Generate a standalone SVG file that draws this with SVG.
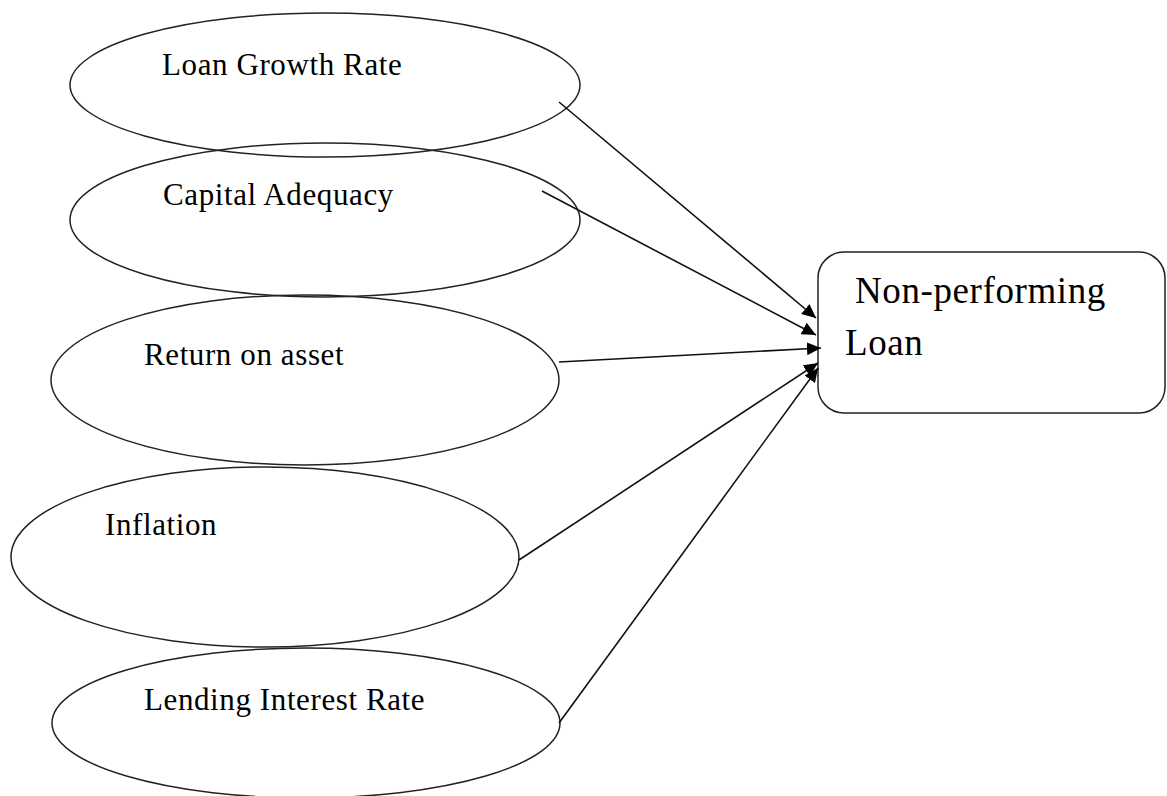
<svg xmlns="http://www.w3.org/2000/svg" width="1167" height="796" viewBox="0 0 1167 796">
<style>
.node ellipse{fill:none;stroke:#222;stroke-width:1.5}
.box{fill:#fff;stroke:#222;stroke-width:1.5}
text{font-family:"Liberation Serif","Times New Roman",serif;font-size:31px;fill:#000;letter-spacing:0.6px}
.big{font-size:37px}
.edges line{stroke:#111;stroke-width:1.6;marker-end:url(#ah)}
</style>
<defs>
<marker id="ah" markerUnits="userSpaceOnUse" markerWidth="15" markerHeight="13" refX="14" refY="6.5" orient="auto">
<path d="M0,0 L14,6.5 L0,13 z" fill="#000"/>
</marker>
</defs>
<rect width="1167" height="796" fill="#fff"/>
<g id="n-loan-growth" class="node">
<ellipse cx="325" cy="85" rx="255" ry="72"/>
<text x="162" y="75">Loan Growth Rate</text>
</g>
<g id="n-capital" class="node">
<ellipse cx="325" cy="220" rx="255" ry="77"/>
<text x="163" y="205">Capital Adequacy</text>
</g>
<g id="n-roa" class="node">
<ellipse cx="305" cy="380" rx="254" ry="85"/>
<text x="144" y="365">Return on asset</text>
</g>
<g id="n-inflation" class="node">
<ellipse cx="265" cy="557" rx="254" ry="90"/>
<text x="105" y="535">Inflation</text>
</g>
<g id="n-lending" class="node">
<ellipse cx="306" cy="723" rx="254" ry="75"/>
<text x="144" y="710">Lending Interest Rate</text>
</g>
<g id="n-npl">
<rect class="box" x="818" y="252" width="347" height="161" rx="26"/>
<text class="big" x="855" y="303">Non-performing</text>
<text class="big" x="845" y="355">Loan</text>
</g>
<g id="edges" class="edges">
<line x1="559" y1="102" x2="816" y2="318"/>
<line x1="542" y1="191" x2="816" y2="335"/>
<line x1="559" y1="362" x2="821" y2="348"/>
<line x1="519" y1="560" x2="818" y2="363"/>
<line x1="559" y1="723" x2="818" y2="368"/>
</g>
</svg>
